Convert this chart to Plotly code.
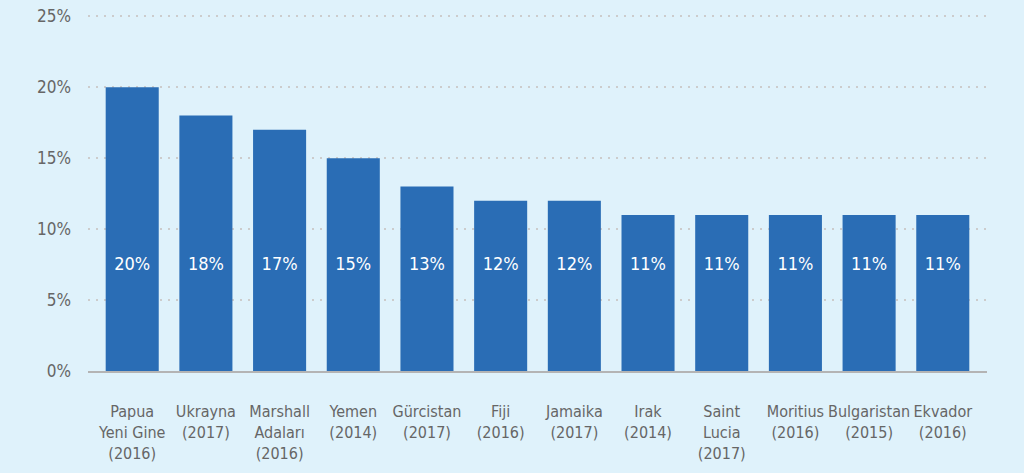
import plotly.graph_objects as go

categories = ["Papua<br>Yeni Gine<br>(2016)", "Ukrayna<br>(2017)", "Marshall<br>Adaları<br>(2016)",
              "Yemen<br>(2014)", "Gürcistan<br>(2017)", "Fiji<br>(2016)", "Jamaika<br>(2017)",
              "Irak<br>(2014)", "Saint<br>Lucia<br>(2017)", "Moritius<br>(2016)",
              "Bulgaristan<br>(2015)", "Ekvador<br>(2016)"]
values = [20, 18, 17, 15, 13, 12, 12, 11, 11, 11, 11, 11]
labels = [f"{v}%" for v in values]
tick_vals = [0, 5, 10, 15, 20, 25]
tick_text = ["0%", "5%", "10%", "15%", "20%", "25%"]

FONT = "DejaVu Sans Condensed, Roboto, sans-serif"
BG = "#dff2fb"
BAR = "#2a6db5"
LABEL_Y = 7.45

x = list(range(len(categories)))

fig = go.Figure()
fig.add_trace(go.Bar(x=x, y=values, marker=dict(color=BAR, line=dict(width=0)),
                     width=0.72, hoverinfo="skip"))
fig.add_trace(go.Scatter(x=x, y=[LABEL_Y] * len(x), mode="text", text=labels,
                         textfont=dict(color="white", size=18, family=FONT),
                         hoverinfo="skip", cliponaxis=False))

fig.update_layout(
    width=1024, height=473,
    margin=dict(l=88, r=37, t=12, b=102, pad=0),
    paper_bgcolor=BG, plot_bgcolor=BG,
    showlegend=False,
    font=dict(family=FONT, color="#666666", size=17),
)
fig.update_xaxes(
    tickmode="array", tickvals=x, ticktext=categories,
    range=[-0.6, len(x) - 0.4], automargin=False,
    showgrid=False, zeroline=False,
    showline=True, linecolor="#b4b4b4", linewidth=2,
    ticks="", ticklabelstandoff=25,
    tickfont=dict(size=16, color="#666666", family=FONT),
    tickangle=0, fixedrange=True,
)
fig.update_yaxes(
    range=[0, 25.3], tickmode="array", tickvals=tick_vals, ticktext=tick_text,
    automargin=False,
    showgrid=True, gridcolor="#cccccc", gridwidth=2, griddash="2px,6px",
    zeroline=False, showline=False, ticks="",
    ticklabelstandoff=16,
    tickfont=dict(size=17, color="#666666", family=FONT),
    fixedrange=True,
)
fig.write_html("out.html", config={"displayModeBar": False},
               post_script="document.body.style.margin='0';document.body.style.background='%s';" % BG)
